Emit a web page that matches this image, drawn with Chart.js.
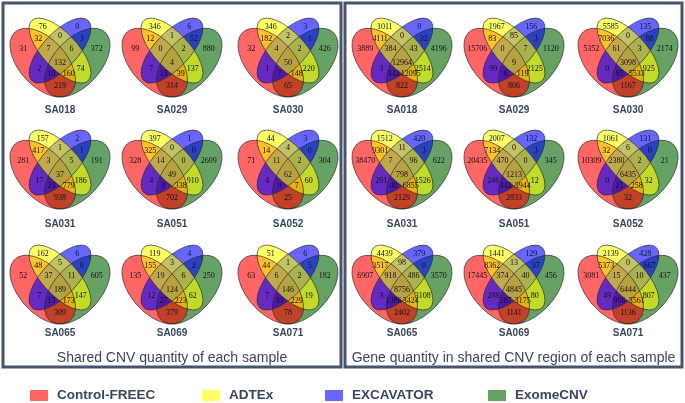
<!DOCTYPE html>
<html>
<head>
<meta charset="utf-8">
<script src="https://cdn.jsdelivr.net/npm/chart.js@4.4.0/dist/chart.umd.min.js"></script>
<style>
  html, body { margin: 0; padding: 0; background: #fff; }
  canvas { display: block; }
</style>
</head>
<body>
<canvas id="vennChart" width="685" height="403"></canvas>
<script>
// methods (sets) A, B, C, D
const methods = ['Control-FREEC', 'ADTEx', 'EXCAVATOR', 'ExomeCNV'];
const samples = ['SA018', 'SA029', 'SA030', 'SA031', 'SA051', 'SA052', 'SA065', 'SA069', 'SA071'];
const panelTitles = ['Shared CNV quantity of each sample', 'Gene quantity in shared CNV region of each sample'];

// region order for every count array below
const regions = ['A', 'B', 'C', 'D', 'AB', 'BC', 'CD', 'AC', 'BD', 'AD', 'ABC', 'BCD', 'ACD', 'ABD', 'ABCD'];

// shared CNV quantity
const cnvSA018 = [31, 76, 0, 372, 32, 0, 3, 2, 74, 219, 7, 6, 10, 160, 132];
const cnvSA029 = [99, 346, 6, 880, 12, 1, 52, 7, 137, 314, 0, 2, 15, 39, 4];
const cnvSA030 = [32, 346, 3, 426, 182, 2, 1, 1, 220, 65, 4, 2, 7, 148, 50];
const cnvSA031 = [281, 157, 2, 191, 417, 1, 1, 17, 186, 938, 3, 5, 23, 779, 37];
const cnvSA051 = [328, 397, 1, 2609, 325, 0, 0, 4, 910, 702, 14, 0, 8, 338, 49];
const cnvSA052 = [71, 44, 3, 304, 14, 4, 0, 4, 60, 25, 11, 2, 9, 7, 62];
const cnvSA065 = [52, 162, 6, 605, 48, 5, 8, 7, 147, 309, 37, 11, 15, 173, 189];
const cnvSA069 = [135, 119, 4, 250, 155, 3, 2, 12, 62, 379, 19, 6, 27, 223, 124];
const cnvSA071 = [63, 51, 6, 182, 44, 1, 5, 7, 19, 78, 6, 2, 33, 229, 146];

// gene quantity in shared CNV region
const geneSA018 = [3889, 1011, 0, 4196, 4111, 0, 32, 3, 2514, 822, 384, 43, 342, 12095, 12964];
const geneSA029 = [15706, 1967, 156, 1120, 83, 85, 3, 99, 2125, 806, 0, 7, 6, 119, 9];
const geneSA030 = [5352, 5585, 135, 2174, 7036, 0, 88, 0, 925, 1167, 61, 3, 85, 5533, 3098];
const geneSA031 = [38470, 1512, 420, 622, 9301, 11, 3, 201, 1526, 2129, 7, 96, 40, 6855, 798];
const geneSA051 = [20435, 2007, 132, 345, 7134, 0, 3, 246, 12, 2833, 470, 0, 442, 3944, 1213];
const geneSA052 = [10309, 1061, 131, 21, 32, 6, 0, 0, 32, 32, 2380, 2, 21, 258, 6435];
const geneSA065 = [6907, 4439, 379, 3570, 3517, 98, 0, 3, 3108, 2402, 918, 486, 1386, 3424, 8756];
const geneSA069 = [17445, 1441, 129, 456, 8362, 13, 37, 288, 80, 1141, 374, 40, 287, 3175, 4845];
const geneSA071 = [3081, 2139, 428, 437, 5373, 0, 667, 49, 807, 1136, 15, 10, 906, 3561, 6444];

const cnvCounts = [cnvSA018, cnvSA029, cnvSA030, cnvSA031, cnvSA051, cnvSA052, cnvSA065, cnvSA069, cnvSA071];
const geneCounts = [geneSA018, geneSA029, geneSA030, geneSA031, geneSA051, geneSA052, geneSA065, geneSA069, geneSA071];

// ---- layout (venn template in unit space, y up) ----
const methodColors = ['rgba(255,0,0,0.6)', 'rgba(255,255,0,0.6)', 'rgba(0,0,255,0.6)', 'rgba(0,100,0,0.6)'];
const regionPos = {
  A: [0.18, 0.58], B: [0.35, 0.77], C: [0.65, 0.77], D: [0.82, 0.58],
  AB: [0.31, 0.67], BC: [0.5, 0.69], CD: [0.69, 0.67], AC: [0.32, 0.42],
  BD: [0.68, 0.42], AD: [0.5, 0.28], ABC: [0.4, 0.58], BCD: [0.6, 0.58],
  ACD: [0.425, 0.38], ABD: [0.575, 0.38], ABCD: [0.5, 0.47]
};
// drawn green, red, blue, yellow
const shapes = [
  { set: 3, x: 0.65, y: 0.47, a: 0.35, b: 0.2, rot: Math.PI / 4 },
  { set: 0, x: 0.35, y: 0.47, a: 0.35, b: 0.2, rot: 3 * Math.PI / 4 },
  { set: 2, x: 0.5, y: 0.57, a: 0.35, b: 0.15, rot: Math.PI / 4 },
  { set: 1, x: 0.5, y: 0.57, a: 0.35, b: 0.15, rot: 3 * Math.PI / 4 }
];
const VENN_W = 115, VENN_H = 120.6, VENN_TOP = 0.84;
const rowTops = [18, 130, 245];
const labelYs = [110, 224, 333];
const panels = [
  { left: 3, right: 341, centers: [60, 172, 288], title: panelTitles[0], counts: cnvCounts },
  { left: 345, right: 682, centers: [402, 514, 628], title: panelTitles[1], counts: geneCounts }
];
const legendX = [30, 202, 325, 488];
const inkColor = '#384660';

const datasets = [];
panels.forEach((p, pi) => {
  samples.forEach((s, i) => {
    const cx = p.centers[i % 3], top = rowTops[Math.floor(i / 3)];
    datasets.push({
      label: s,
      counts: p.counts[i],
      data: regions.map(r => ({
        x: cx + (regionPos[r][0] - 0.5) * VENN_W,
        y: top + (VENN_TOP - regionPos[r][1]) * VENN_H
      })),
      pointRadius: 0,
      showLine: false
    });
  });
});

// builds an ellipse path in venn unit space, placed through the scales
function ellipsePath(ctx, sh, ox, oy, kx, ky) {
  ctx.save();
  ctx.translate(ox - 0.5 * kx, oy + VENN_TOP * ky);
  ctx.scale(kx, -ky);
  ctx.beginPath();
  ctx.ellipse(sh.x, sh.y, sh.a, sh.b, sh.rot, 0, Math.PI * 2);
  ctx.restore();
}

const vennPlugin = {
  id: 'vennPlugin',
  beforeDatasetsDraw(chart) {
    const ctx = chart.ctx;
    const xs = chart.scales.x, ys = chart.scales.y;
    const px = v => xs.getPixelForValue(v);
    const py = v => ys.getPixelForValue(v);
    ctx.save();

    panels.forEach(p => {
      ctx.strokeStyle = '#46556d';
      ctx.lineWidth = 3;
      ctx.strokeRect(px(p.left), py(3), px(p.right) - px(p.left), py(367) - py(3));

      samples.forEach((s, i) => {
        const cx = p.centers[i % 3], top = rowTops[Math.floor(i / 3)];
        const ox = px(cx), oy = py(top);
        const kx = px(cx + VENN_W) - ox, ky = py(top + VENN_H) - oy;
        shapes.forEach(sh => {
          ellipsePath(ctx, sh, ox, oy, kx, ky);
          ctx.fillStyle = methodColors[sh.set];
          ctx.fill();
        });
        shapes.forEach(sh => {
          ellipsePath(ctx, sh, ox, oy, kx, ky);
          ctx.strokeStyle = 'rgba(40,40,40,0.85)';
          ctx.lineWidth = 0.8;
          ctx.stroke();
        });

        ctx.fillStyle = inkColor;
        ctx.font = 'bold 10px "Liberation Sans", Arial, sans-serif';
        ctx.textAlign = 'center';
        ctx.textBaseline = 'middle';
        ctx.fillText(s, ox, py(labelYs[Math.floor(i / 3)]));
      });

      ctx.fillStyle = inkColor;
      ctx.font = '14px "Liberation Sans", Arial, sans-serif';
      ctx.textAlign = 'center';
      ctx.textBaseline = 'middle';
      ctx.fillText(p.title, (px(p.left) + px(p.right)) / 2, py(358));
    });

    // legend
    methods.forEach((m, k) => {
      ctx.fillStyle = methodColors[k];
      ctx.fillRect(px(legendX[k]), py(390), 18, 11);
      ctx.fillStyle = inkColor;
      ctx.font = 'bold 13.5px "Liberation Sans", Arial, sans-serif';
      ctx.textAlign = 'left';
      ctx.textBaseline = 'middle';
      ctx.fillText(m, px(legendX[k]) + 27, py(395.5));
    });
    ctx.restore();
  },
  afterDatasetsDraw(chart) {
    const ctx = chart.ctx;
    ctx.save();
    ctx.fillStyle = '#111';
    ctx.font = '8px "Liberation Serif", "Times New Roman", serif';
    ctx.textAlign = 'center';
    ctx.textBaseline = 'middle';
    chart.data.datasets.forEach((ds, di) => {
      const meta = chart.getDatasetMeta(di);
      meta.data.forEach((pt, k) => {
        ctx.fillText(String(ds.counts[k]), pt.x, pt.y);
      });
    });
    ctx.restore();
  }
};

new Chart(document.getElementById('vennChart'), {
  type: 'scatter',
  data: { datasets: datasets },
  options: {
    responsive: false,
    devicePixelRatio: 1,
    animation: false,
    layout: { padding: 0 },
    plugins: {
      legend: { display: false },
      tooltip: { enabled: false }
    },
    scales: {
      x: { type: 'linear', min: 0, max: 685, display: false },
      y: { type: 'linear', min: 0, max: 403, reverse: true, display: false }
    }
  },
  plugins: [vennPlugin]
});
</script>
</body>
</html>
